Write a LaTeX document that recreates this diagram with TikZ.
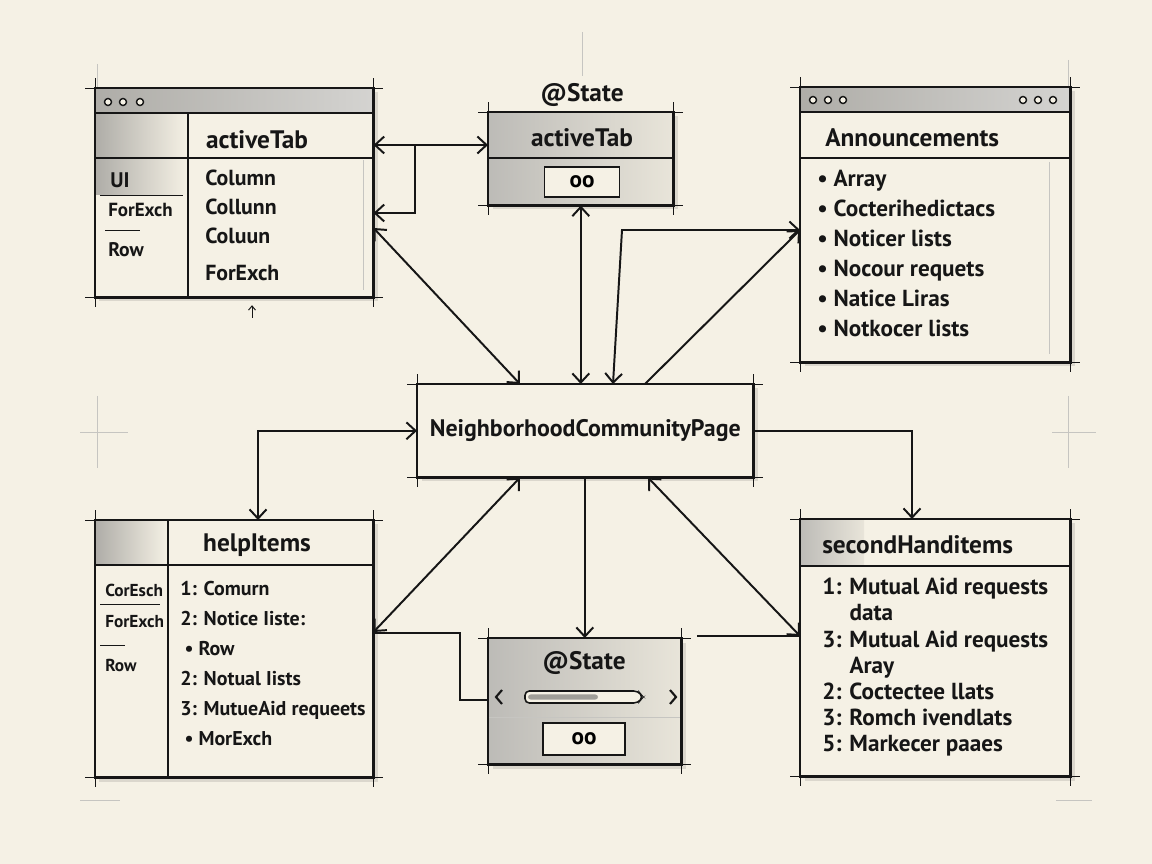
\documentclass[tikz,border=0pt]{standalone}
\usepackage{fontspec}
\setmainfont{PT Sans}
\usetikzlibrary{arrows.meta, positioning, calc, shadows}
\usepackage{xcolor}
\definecolor{meubege}{RGB}{245, 241, 229}
\definecolor{meucinza}{RGB}{160, 158, 152}
\definecolor{meutraco}{RGB}{22, 22, 22}

\newcommand{\moldura}[1]{%
    \draw[draw=meutraco, line width=1.9pt] (#1.north west) rectangle (#1.south east);
    \draw[draw=meutraco, line width=0.6pt]
        ([xshift=-7pt]#1.north west) -- ([xshift=7pt]#1.north east)
        ([xshift=-7pt]#1.south west) -- ([xshift=7pt]#1.south east)
        ([yshift=7pt]#1.north west) -- ([yshift=-7pt]#1.south west)
        ([yshift=7pt]#1.north east) -- ([yshift=-7pt]#1.south east);
}

\begin{document}
\begin{tikzpicture}[
    quadro/.style={
        fill=meubege,
        anchor=north west,
        inner sep=0pt,
        drop shadow={opacity=0.3, shadow xshift=3pt, shadow yshift=-3pt, fill=meucinza}
    },
    barra/.style={
        left color=meucinza!85,
        right color=meucinza!45,
        draw=meutraco,
        line width=1.4pt
    },
    sombreado/.style={
        left color=meucinza!85,
        right color=meubege
    },
    sombreadoleve/.style={
        left color=meucinza!70,
        right color=meucinza!15!meubege
    },
    bolinha/.style={
        circle,
        draw=meutraco,
        fill=meubege,
        line width=1pt,
        inner sep=0pt,
        minimum size=5pt
    },
    titulo/.style={
        font=\fontsize{18}{21}\selectfont\bfseries,
        text=meutraco,
        inner sep=0pt
    },
    lista/.style={
        font=\fontsize{16.5}{21.3}\selectfont\bfseries,
        text=meutraco,
        align=left,
        anchor=north west,
        inner sep=0pt
    },
    pequeno/.style={
        font=\fontsize{12.3}{15}\selectfont\bfseries,
        text=meutraco,
        anchor=west,
        inner sep=0pt
    },
    valor/.style={
        draw=meutraco,
        fill=meubege,
        line width=1.3pt,
        font=\fontsize{16.5}{19}\selectfont\bfseries
    },
    linha/.style={
        draw=meutraco,
        line width=1.1pt
    },
    guia/.style={
        draw=meucinza!60,
        line width=0.4pt
    },
    seta/.style={
        draw=meutraco,
        line width=1.4pt,
        -{Straight Barb[length=6.5pt, width=12pt]}
    },
    setadupla/.style={
        draw=meutraco,
        line width=1.4pt,
        {Straight Barb[length=6.5pt, width=12pt]}-{Straight Barb[length=6.5pt, width=12pt]}
    }
]

% ---------------- Fundo ----------------

\fill[meubege] (0,0) rectangle (28.8,-21.6);
\useasboundingbox (0,0) rectangle (28.8,-21.6);

\draw[guia] (14.55,-0.8) -- (14.55,-1.9);
\draw[guia] (2.425,-1.6) -- (2.425,-2.2);
\draw[guia] (26.7,-1.5) -- (26.7,-2.175);
\draw[guia] (2.0,-10.8) -- (3.2,-10.8) (2.425,-9.9) -- (2.425,-11.7);
\draw[guia] (26.3,-10.8) -- (27.4,-10.8) (26.7,-9.9) -- (26.7,-11.7);
\draw[guia] (2.0,-20.0) -- (3.0,-20.0) (26.4,-20.0) -- (27.3,-20.0);

% ---------------- activeTab (janela) ----------------

\node[quadro, minimum width=6.95cm, minimum height=5.225cm] (abas) at (2.375,-2.2) {};
\fill[sombreado] (2.375,-2.8) rectangle (4.7,-4.875);
\draw[barra] (2.375,-2.2) rectangle (9.325,-2.825);
\node[bolinha] (abas-p1) at (2.7,-2.55) {};
\node[bolinha] (abas-p2) at (3.075,-2.55) {};
\node[bolinha] (abas-p3) at (3.5,-2.55) {};
\node[titulo] (abas-titulo) at (6.425,-3.5) {activeTab};
\draw[linha] (2.375,-3.95) -- (9.325,-3.95);
\draw[linha] (4.7,-2.825) -- (4.7,-7.425);
\draw[guia] (9.075,-4.0) -- (9.075,-7.25);
\draw[linha, line width=0.7pt] (2.5,-4.875) -- (4.575,-4.875);
\draw[linha, line width=0.7pt] (2.625,-5.75) -- (3.5,-5.75);
\node[pequeno, font=\fontsize{15}{18}\selectfont\bfseries] (abas-ui) at (2.75,-4.5) {UI};
\node[pequeno, font=\fontsize{13.5}{16}\selectfont\bfseries] (abas-forexch) at (2.7,-5.25) {ForExch};
\node[pequeno, font=\fontsize{14}{17}\selectfont\bfseries] (abas-row) at (2.7,-6.25) {Row};
\node[lista, font=\fontsize{15.5}{20.5}\selectfont\bfseries] (abas-colunas) at (5.125,-4.25)
{Column\\Collunn\\Coluun\\[6pt]ForExch};
\moldura{abas}

\coordinate (abas-dica) at (6.3,-7.95);
\draw[seta, line width=0.7pt, -{Straight Barb[length=3pt, width=5pt]}] (abas-dica) -- ++(0,0.32);

% ---------------- @State activeTab ----------------

\node[titulo] (estado1-rotulo) at (14.55,-2.375) {@State};
\node[quadro, minimum width=4.625cm, minimum height=2.325cm] (estado1) at (12.2,-2.8) {};
\fill[sombreadoleve] (12.2,-2.8) rectangle (16.825,-5.125);
\draw[linha, line width=0.8pt] (12.2,-3.95) -- (16.825,-3.95);
\node[titulo] (estado1-titulo) at (14.55,-3.45) {activeTab};
\node[valor, minimum width=1.875cm, minimum height=0.75cm] (estado1-valor) at (14.55,-4.55) {oo};
\moldura{estado1}

% ---------------- Announcements ----------------

\node[quadro, minimum width=6.75cm, minimum height=6.875cm] (avisos) at (20.0,-2.175) {};
\draw[barra] (20.0,-2.175) rectangle (26.75,-2.8);
\node[bolinha] (avisos-p1) at (20.325,-2.5) {};
\node[bolinha] (avisos-p2) at (20.7,-2.5) {};
\node[bolinha] (avisos-p3) at (21.075,-2.5) {};
\node[bolinha] (avisos-p4) at (25.575,-2.5) {};
\node[bolinha] (avisos-p5) at (25.95,-2.5) {};
\node[bolinha] (avisos-p6) at (26.325,-2.5) {};
\node[titulo, anchor=west] (avisos-titulo) at (20.625,-3.45) {Announcements};
\draw[linha] (20.0,-3.95) -- (26.75,-3.95);
\draw[guia] (26.225,-4.05) -- (26.225,-8.85);
\node[lista] (avisos-itens) at (20.425,-4.25)
{• Array\\• Cocterihedictacs\\• Noticer lists\\• Nocour requets\\• Natice Liras\\• Notkocer lists};
\moldura{avisos}

% ---------------- NeighborhoodCommunityPage ----------------

\node[
    quadro,
    minimum width=8.4cm,
    minimum height=2.325cm,
    text=meutraco,
    font=\fontsize{17}{20}\selectfont\bfseries
] (pagina) at (10.425,-9.6)
{NeighborhoodCommunityPage};
\moldura{pagina}

% ---------------- helpItems ----------------

\node[quadro, minimum width=6.95cm, minimum height=6.425cm] (ajuda) at (2.375,-13.0) {};
\fill[sombreado] (2.375,-13.0) rectangle (4.2,-14.125);
\draw[linha, line width=1.6pt] (2.375,-14.125) -- (9.325,-14.125);
\draw[linha] (4.2,-13.0) -- (4.2,-19.425);
\node[titulo] (ajuda-titulo) at (6.425,-13.625) {helpItems};
\draw[linha, line width=0.7pt] (2.5,-15.1) -- (4.0,-15.1);
\draw[linha, line width=0.7pt] (2.5,-16.125) -- (3.125,-16.125);
\node[pequeno] (ajuda-coresch) at (2.625,-14.75) {CorEsch};
\node[pequeno] (ajuda-forexch) at (2.625,-15.55) {ForExch};
\node[pequeno] (ajuda-row) at (2.625,-16.625) {Row};
\node[lista, font=\fontsize{14.2}{21.3}\selectfont\bfseries] (ajuda-itens) at (4.5,-14.525)
{1: Comurn\\2: Notice Iiste:\\\hspace*{3pt}• Row\\2: Notual Iists\\3: MutueAid requeets\\\hspace*{3pt}• MorExch};
\moldura{ajuda}

% ---------------- @State (controle) ----------------

\node[quadro, minimum width=4.825cm, minimum height=3.15cm] (estado2) at (12.2,-15.95) {};
\fill[sombreadoleve] (12.2,-15.95) rectangle (17.025,-19.1);
\node[titulo] (estado2-titulo) at (14.6,-16.575) {@State};
\draw[draw=meutraco, line width=1.1pt, fill=meubege, rounded corners=3pt]
    (13.125,-17.275) -- (15.95,-17.275) -- (16.075,-17.425) -- (15.95,-17.575) -- (13.125,-17.575) -- cycle;
\fill[meucinza, rounded corners=2pt] (13.2,-17.36) rectangle (14.95,-17.49);
\draw[linha, line width=1.5pt] (12.55,-17.25) -- (12.4,-17.425) -- (12.55,-17.6);
\draw[linha, line width=1.5pt] (16.75,-17.25) -- (16.9,-17.425) -- (16.75,-17.6);
\draw[guia] (12.2,-17.925) -- (17.025,-17.925);
\node[valor, minimum width=2.05cm, minimum height=0.8cm] (estado2-valor) at (14.6,-18.475) {oo};
\moldura{estado2}

% ---------------- secondHanditems ----------------

\node[quadro, minimum width=6.75cm, minimum height=6.425cm] (usados) at (20.0,-12.975) {};
\fill[sombreadoleve] (20.0,-12.975) rectangle (21.6,-14.15);
\node[titulo, anchor=west] (usados-titulo) at (20.55,-13.625) {secondHanditems};
\draw[linha] (20.0,-14.15) -- (26.75,-14.15);
\node[lista, font=\fontsize{16.5}{18.6}\selectfont\bfseries] (usados-itens) at (20.55,-14.45)
{1: Mutual Aid requests\\\phantom{1: }data\\3: Mutual Aid requests\\\phantom{3: }Aray\\2: Coctectee llats\\3: Romch ivendlats\\5: Markecer paaes};
\moldura{usados}

% ---------------- Conexoes ----------------

\draw[setadupla] ([yshift=-1.425cm]abas.north east) -- ([yshift=-0.825cm]estado1.north west);
\coordinate (juncao) at (10.375,-3.625);
\draw[seta] (juncao) |- ([yshift=-3.125cm]abas.north east);
\draw[setadupla] ([yshift=-3.5cm]abas.north east) -- ([xshift=2.575cm]pagina.north west);
\draw[setadupla] (estado1.south) -- (estado1.south |- pagina.north);
\coordinate (dobra) at (15.55,-5.75);
\draw[setadupla] ([xshift=4.9cm]pagina.north west) -- (dobra) -- ([yshift=-3.575cm]avisos.north west);
\draw[seta] ([xshift=5.7cm]pagina.north west) -- ([yshift=-3.575cm]avisos.north west);
\draw[setadupla] ([xshift=4.075cm]ajuda.north west) |- (pagina.west);
\draw[seta] (pagina.east) -| ([xshift=2.8cm]usados.north west);
\draw[setadupla] ([xshift=2.575cm]pagina.south west) -- ([yshift=-2.8cm]ajuda.north east);
\draw[seta] (pagina.south -| estado2.north) -- (estado2.north);
\draw[setadupla] ([xshift=5.775cm]pagina.south west) -- ([yshift=-2.925cm]usados.north west);
\draw[linha, line width=1.4pt] ([yshift=-2.825cm]ajuda.north east)
    -| ([xshift=-0.7cm, yshift=-1.55cm]estado2.north west) -- ([yshift=-1.55cm]estado2.north west);
\coordinate (traco) at (17.425,-15.9);
\draw[linha, line width=1.4pt] (traco) -- ([yshift=-2.925cm]usados.north west);

\end{tikzpicture}
\end{document}
